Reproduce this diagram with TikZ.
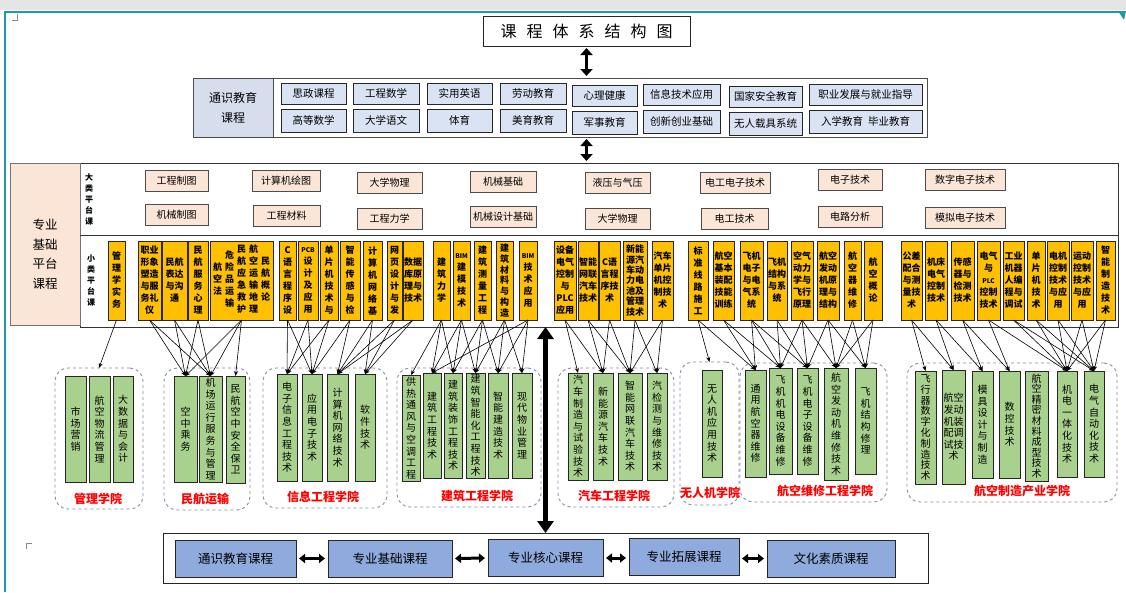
\documentclass[tikz,border=0pt]{standalone}
\usepackage{fontspec}
\setmainfont{Noto Sans CJK SC}
\usetikzlibrary{arrows.meta}
\definecolor{teal1}{HTML}{1E9AA5}
\definecolor{gebl}{HTML}{DAE3F3}
\definecolor{gecell}{HTML}{D6DEEE}
\definecolor{peach}{HTML}{FBE5D6}
\definecolor{gold}{HTML}{FFC000}
\definecolor{grn}{HTML}{A9D18E}
\definecolor{grpc}{HTML}{7F8FA9}
\definecolor{bblue}{HTML}{8FAADC}
\newcommand\vstk[1]{\begin{tabular}[c]{@{}c@{}}#1\end{tabular}}
\tikzset{
 gebox/.style={draw=black!85, fill=gebl, line width=0.6pt, inner sep=0, outer sep=0, minimum height=21, font=\fontsize{10.5}{12}\selectfont},
 pbox/.style={draw=black!70, fill=peach, line width=1pt, inner sep=0, outer sep=0, minimum height=21, font=\fontsize{10}{12}\selectfont},
 sbox/.style={draw=black!85, fill=gold, line width=0.8pt, inner sep=0, outer sep=0, minimum height=79, align=center, font=\fontsize{9}{12}\selectfont\bfseries},
 mbox/.style={draw=black!85, fill=grn, line width=0.8pt, inner sep=0, outer sep=0, align=center, font=\fontsize{10}{11.6}\selectfont},
 grp/.style={draw=grpc, dashed, line width=0.9pt, rounded corners=13pt, inner sep=0, outer sep=0},
 glab/.style={text=red, font=\fontsize{12}{14}\selectfont\bfseries},
 conn/.style={-{Stealth[length=5pt,width=4pt]}, line width=0.6pt, black},
 dbl/.style={{Triangle[width=12pt,length=7pt]}-{Triangle[width=12pt,length=7pt]}, line width=3.5pt},
 bigdbl/.style={{Triangle[width=16pt,length=12pt]}-{Triangle[width=16pt,length=12pt]}, line width=5pt},
 hdbl/.style={{Triangle[width=9pt,length=6pt]}-{Triangle[width=9pt,length=6pt]}, line width=3pt, shorten <=3pt, shorten >=3pt},
 botbox/.style={draw=black!85, fill=bblue, line width=0.8pt, inner sep=0, outer sep=0, minimum height=37, font=\fontsize{12.5}{14}\selectfont},
}
\begin{document}
\begin{tikzpicture}[x=1pt,y=-1pt]
\useasboundingbox (0,0) rectangle (1126,592);
\fill[white] (0,0) rectangle (1126,592);
\fill[black!10] (0,0) rectangle (1126,10);
\draw[teal1, line width=2.2pt] (5,592) -- (5,12) -- (1121,12);
\fill[teal1] (1118,11) -- (1126,11) -- (1124,20) -- cycle;
\draw[black!45, line width=0.5pt] (12,20) -- (17,20) -- (17,14);
\draw[black!45, line width=0.5pt] (26,549) -- (26,543) -- (32,543);

% title
\node[draw=black!85, line width=0.8pt, fill=white, minimum width=207, minimum height=30, inner sep=0, outer sep=0, font=\fontsize{16}{18}\selectfont] (title) at (586.5,31)
 {课\hspace{10pt}程\hspace{10pt}体\hspace{10pt}系\hspace{10pt}结\hspace{10pt}构\hspace{10pt}图};

% general education
\node[draw=black!70, line width=0.7pt, fill=white, anchor=north west, minimum width=734, minimum height=59, inner sep=0, outer sep=0] (gened) at (193,78) {};
\node[draw=black!70, line width=0.7pt, fill=gecell, anchor=north west, minimum width=80, minimum height=59, inner sep=0, outer sep=0, align=center, font=\fontsize{12}{20}\selectfont] (gecellnode) at (193,78) {通识教育\\课程};
\node[gebox, minimum width=65] (e1) at (313.5,93.5) {思政课程};
\node[gebox, minimum width=66] (e2) at (386,93.5) {工程数学};
\node[gebox, minimum width=65] (e3) at (459.5,93.5) {实用英语};
\node[gebox, minimum width=66] (e4) at (533,93.5) {劳动教育};
\node[gebox, minimum width=65] (e5) at (604.5,95.5) {心理健康};
\node[gebox, minimum width=77] (e6) at (681.5,94.5) {信息技术应用};
\node[gebox, minimum width=73] (e7) at (765.5,96.5) {国家安全教育};
\node[gebox, minimum width=113] (e8) at (865.5,94.5) {职业发展与就业指导};
\node[gebox, minimum width=65, minimum height=23] (f1) at (313.5,120.5) {高等数学};
\node[gebox, minimum width=66, minimum height=23] (f2) at (386,120.5) {大学语文};
\node[gebox, minimum width=65, minimum height=23] (f3) at (459.5,120.5) {体育};
\node[gebox, minimum width=66, minimum height=23] (f4) at (533,120.5) {美育教育};
\node[gebox, minimum width=65, minimum height=23] (f5) at (604.5,122.5) {军事教育};
\node[gebox, minimum width=77, minimum height=23] (f6) at (681.5,121.5) {创新创业基础};
\node[gebox, minimum width=73, minimum height=23] (f7) at (765.5,123.5) {无人载具系统};
\node[gebox, minimum width=113, minimum height=23] (f8) at (865.5,121.5) {入学教育\hspace{5pt}毕业教育};

% platform
\node[draw=black!80, line width=0.8pt, fill=white, anchor=north west, minimum width=1038, minimum height=164, inner sep=0, outer sep=0] (plat) at (80,163) {};
\node[draw=black!55, line width=0.7pt, fill=peach, anchor=north west, minimum width=70, minimum height=162, inner sep=0, outer sep=0] (platcell) at (10,163) {};
\node[align=center, font=\fontsize{12.5}{19.5}\selectfont] (platlab) at (45,254) {专业\\基础\\平台\\课程};
\coordinate (dv) at (0,235);
\draw[black!80, line width=0.8pt] (plat.west |- dv) -- (plat.east |- dv);
\node[align=center, font=\fontsize{8}{11}\selectfont\bfseries] (biglab) at (89,199) {大\\类\\平\\台\\课};
\node[align=center, font=\fontsize{8}{11}\selectfont\bfseries] (smllab) at (91,281) {小\\类\\平\\台\\课};

\node[pbox, minimum width=63] (p1) at (176.5,181) {工程制图};
\node[pbox, minimum width=68] (p2) at (286,181) {计算机绘图};
\node[pbox, minimum width=65] (p3) at (389.5,183) {大学物理};
\node[pbox, minimum width=66] (p4) at (503,182) {机械基础};
\node[pbox, minimum width=65] (p5) at (617.5,183) {液压与气压};
\node[pbox, minimum width=70] (p6) at (735,183) {电工电子技术};
\node[pbox, minimum width=64] (p7) at (850,180) {电子技术};
\node[pbox, minimum width=80] (p8) at (965,180) {数字电子技术};
\node[pbox, minimum width=63] (q1) at (176.5,215) {机械制图};
\node[pbox, minimum width=67] (q2) at (286.5,216) {工程材料};
\node[pbox, minimum width=65] (q3) at (389.5,219) {工程力学};
\node[pbox, minimum width=66] (q4) at (503,217) {机械设计基础};
\node[pbox, minimum width=65] (q5) at (617.5,219) {大学物理};
\node[pbox, minimum width=67] (q6) at (734.5,219) {电工技术};
\node[pbox, minimum width=64] (q7) at (850,217) {电路分析};
\node[pbox, minimum width=80] (q8) at (965,218) {模拟电子技术};

% small platform courses
\node[sbox, minimum width=17] (s1) at (116.5,280.5) {管\\理\\学\\实\\务};
\node[sbox, minimum width=23] (s2) at (149.5,280.5) {职业\\形象\\塑造\\与服\\务礼\\仪};
\node[sbox, minimum width=25] (s3) at (174.5,280.5) {民航\\表达\\与沟\\通};
\node[sbox, minimum width=20] (s4) at (198,280.5) {民\\航\\服\\务\\心\\理};
\node[sbox, minimum width=63] (s5) at (241.5,280.5) {\vstk{航\\空\\法}\hspace{3pt}\vstk{危\\险\\品\\运\\输}\hspace{3pt}\vstk{民\\航\\应\\急\\救\\护}\hspace{3pt}\vstk{航\\空\\运\\输\\地\\理}\hspace{3pt}\vstk{民\\航\\概\\论}};
\node[sbox, minimum width=17] (s6) at (287.5,280.5) {C\\语\\言\\程\\序\\设};
\node[sbox, minimum width=20] (s7) at (308,280.5) {{\fontsize{6.5}{8}\selectfont PCB}\\设\\计\\及\\应\\用};
\node[sbox, minimum width=18] (s8) at (329,280.5) {单\\片\\机\\技\\术\\与};
\node[sbox, minimum width=20] (s9) at (350,280.5) {智\\能\\传\\感\\与\\检};
\node[sbox, minimum width=19] (s10) at (372.5,280.5) {计\\算\\机\\网\\络\\基};
\node[sbox, minimum width=15] (s11) at (394.5,280.5) {网\\页\\设\\计\\与\\发};
\node[sbox, minimum width=20] (s12) at (413,280.5) {数据\\库原\\理与\\技术};
\node[sbox, minimum width=17] (s13) at (441.5,280.5) {建\\筑\\力\\学};
\node[sbox, minimum width=17] (s14) at (461.5,280.5) {{\fontsize{6.5}{8}\selectfont BIM}\\建\\模\\技\\术};
\node[sbox, minimum width=17] (s15) at (482.5,280.5) {建\\筑\\测\\量\\工\\程};
\node[sbox, minimum width=17, font=\fontsize{9}{10.8}\selectfont\bfseries] (s16) at (504.5,280.5) {建\\筑\\材\\料\\与\\构\\造};
\node[sbox, minimum width=18] (s17) at (528,280.5) {{\fontsize{6.5}{8}\selectfont BIM}\\技\\术\\应\\用};
\node[sbox, minimum width=22] (s18) at (565,280.5) {设备\\电气\\控制\\与\\PLC\\应用};
\node[sbox, minimum width=20] (s19) at (588,280.5) {智能\\网联\\汽车\\技术};
\node[sbox, minimum width=21] (s20) at (609.5,280.5) {C语\\言程\\序技\\术};
\node[sbox, minimum width=24, font=\fontsize{9}{10.4}\selectfont\bfseries] (s21) at (635,280.5) {新能\\源汽\\车动\\力电\\池及\\管理\\技术};
\node[sbox, minimum width=21] (s22) at (662.5,280.5) {汽车\\单片\\机控\\制技\\术};
\node[sbox, minimum width=20] (s23) at (698,280.5) {标\\准\\线\\路\\施\\工};
\node[sbox, minimum width=21] (s24) at (723.5,280.5) {航空\\基本\\装配\\技能\\训练};
\node[sbox, minimum width=23] (s25) at (751.5,280.5) {飞机\\电子\\与电\\气系\\统};
\node[sbox, minimum width=20] (s26) at (777,280.5) {飞机\\结构\\与系\\统};
\node[sbox, minimum width=22] (s27) at (802,280.5) {空气\\动力\\学与\\飞行\\原理};
\node[sbox, minimum width=22] (s28) at (828,280.5) {航空\\发动\\机原\\理与\\结构};
\node[sbox, minimum width=17] (s29) at (852.5,280.5) {航\\空\\器\\维\\修};
\node[sbox, minimum width=18] (s30) at (873,280.5) {航\\空\\概\\论};
\node[sbox, minimum width=21] (s31) at (911.5,280.5) {公差\\配合\\与测\\量技\\术};
\node[sbox, minimum width=22] (s32) at (936,280.5) {机床\\电气\\控制\\技术};
\node[sbox, minimum width=23] (s33) at (962.5,280.5) {传感\\器与\\检测\\技术};
\node[sbox, minimum width=23] (s34) at (988.5,280.5) {电气\\与\\{\fontsize{6.5}{8}\selectfont PLC}\\控制\\技术};
\node[sbox, minimum width=21] (s35) at (1013.5,280.5) {工业\\机器\\人编\\程与\\调试};
\node[sbox, minimum width=18] (s36) at (1036,280.5) {单\\片\\机\\技\\术};
\node[sbox, minimum width=22] (s37) at (1058,280.5) {电机\\控制\\技术\\与应\\用};
\node[sbox, minimum width=22] (s38) at (1082,280.5) {运动\\控制\\技术\\与应\\用};
\node[sbox, minimum width=19] (s39) at (1105.5,280.5) {智\\能\\制\\造\\技\\术};

% groups
\node[grp, minimum width=88, minimum height=141] (g1) at (99,438.5) {};
\node[grp, minimum width=86, minimum height=142] (g2) at (207,439) {};
\node[grp, minimum width=124, minimum height=140] (g3) at (325,438) {};
\node[grp, minimum width=144, minimum height=139] (g4) at (469,437.5) {};
\node[grp, minimum width=116, minimum height=139] (g5) at (616,437.5) {};
\node[grp, minimum width=59, minimum height=143] (g6) at (709.5,433.5) {};
\node[grp, minimum width=147, minimum height=139] (g7) at (813.5,432.5) {};
\node[grp, minimum width=210, minimum height=139] (g8) at (1012,432.5) {};

% majors
\node[mbox, minimum width=21, minimum height=106] (m1) at (75.5,429) {市\\场\\营\\销};
\node[mbox, minimum width=21, minimum height=106] (m2) at (99.5,429) {航\\空\\物\\流\\管\\理};
\node[mbox, minimum width=20, minimum height=106] (m3) at (123,429) {大\\数\\据\\与\\会\\计};
\node[mbox, minimum width=23, minimum height=106] (m4) at (185.5,429) {空\\中\\乘\\务};
\node[mbox, minimum width=23, minimum height=106] (m5) at (210.5,429) {机\\场\\运\\行\\服\\务\\与\\管\\理};
\node[mbox, minimum width=19, minimum height=107] (m6) at (235.5,429.5) {民\\航\\空\\中\\安\\全\\保\\卫};
\node[mbox, minimum width=20, minimum height=107] (m7) at (287,427.5) {电\\子\\信\\息\\工\\程\\技\\术};
\node[mbox, minimum width=20, minimum height=107] (m8) at (312,427.5) {应\\用\\电\\子\\技\\术};
\node[mbox, minimum width=21, minimum height=107] (m9) at (337.5,427.5) {计\\算\\机\\网\\络\\技\\术};
\node[mbox, minimum width=20, minimum height=107] (m10) at (365,427.5) {软\\件\\技\\术};
\node[mbox, minimum width=18, minimum height=106] (m11) at (411,428) {供\\热\\通\\风\\与\\空\\调\\工\\程};
\node[mbox, minimum width=18, minimum height=105] (m12) at (432,425.5) {建\\筑\\工\\程\\技\\术};
\node[mbox, minimum width=18, minimum height=105] (m13) at (453,425.5) {建\\筑\\装\\饰\\工\\程\\技\\术};
\node[mbox, minimum width=19, minimum height=105] (m14) at (475.5,425.5) {建\\筑\\智\\能\\化\\工\\程\\技\\术};
\node[mbox, minimum width=20, minimum height=105] (m15) at (498,425.5) {智\\能\\建\\造\\技\\术};
\node[mbox, minimum width=20, minimum height=105] (m16) at (522,425.5) {现\\代\\物\\业\\管\\理};
\node[mbox, minimum width=20, minimum height=107] (m17) at (578,426.5) {汽\\车\\制\\造\\与\\试\\验\\技\\术};
\node[mbox, minimum width=20, minimum height=107] (m18) at (603,426.5) {新\\能\\源\\汽\\车\\技\\术};
\node[mbox, minimum width=24, minimum height=107] (m19) at (630,426.5) {智\\能\\网\\联\\汽\\车\\技\\术};
\node[mbox, minimum width=20, minimum height=107] (m20) at (657,426.5) {汽\\检\\测\\与\\维\\修\\技\\术};
\node[mbox, minimum width=20, minimum height=107] (m21) at (712,423.5) {无\\人\\机\\应\\用\\技\\术};
\node[mbox, minimum width=21, minimum height=107] (m22) at (755.5,423.5) {通\\用\\航\\空\\器\\维\\修};
\node[mbox, minimum width=23, minimum height=106] (m23) at (780.5,421) {飞\\机\\机\\电\\设\\备\\维\\修};
\node[mbox, minimum width=21, minimum height=106] (m24) at (807.5,421) {飞\\机\\电\\子\\设\\备\\维\\修};
\node[mbox, minimum width=24, minimum height=112] (m25) at (836,424) {航\\空\\发\\动\\机\\维\\修\\技\\术};
\node[mbox, minimum width=21, minimum height=106] (m26) at (865.5,421) {飞\\机\\结\\构\\修\\理};
\node[mbox, minimum width=21, minimum height=113, font=\fontsize{10}{10.8}\selectfont] (m27) at (925.5,427.5) {飞\\行\\器\\数\\字\\化\\制\\造\\技\\术};
\node[mbox, minimum width=23, minimum height=114] (m28) at (953.5,427) {航空\\发动\\机装\\配调\\试技\\术};
\node[mbox, minimum width=21, minimum height=107] (m29) at (982.5,424.5) {模\\具\\设\\计\\与\\制\\造};
\node[mbox, minimum width=21, minimum height=107] (m30) at (1009.5,424.5) {数\\控\\技\\术};
\node[mbox, minimum width=23, minimum height=110, font=\fontsize{10}{10.6}\selectfont] (m31) at (1036.5,426) {航\\空\\精\\密\\材\\料\\成\\型\\技\\术};
\node[mbox, minimum width=20, minimum height=106] (m32) at (1067,424) {机\\电\\一\\体\\化\\技\\术};
\node[mbox, minimum width=20, minimum height=106] (m33) at (1094,424) {电\\气\\自\\动\\化\\技\\术};

% group labels
\node[glab] (l1) at (98,499) {管理学院};
\node[glab] (l2) at (205,499) {民航运输};
\node[glab] (l3) at (323,497) {信息工程学院};
\node[glab] (l4) at (477,496) {建筑工程学院};
\node[glab] (l5) at (614,496) {汽车工程学院};
\node[glab] (l6) at (710,493) {无人机学院};
\node[glab] (l7) at (825,491) {航空维修工程学院};
\node[glab] (l8) at (1022,491) {航空制造产业学院};

% connectors
\draw[conn] (s1.south) -- (g1.north);
\draw[conn] (s23.south) -- (g6.north);
\foreach \a/\b in {s2/m4,s2/m5,s3/m4,s3/m5,s4/m4,s4/m5,s5/m4,s5/m5,s5/m6,
 s6/m7,s6/m8,s7/m7,s7/m8,s8/m7,s8/m8,s9/m8,s9/m9,s10/m9,s10/m10,s11/m9,s11/m10,s12/m10,s12/m9,
 s13/m11,s13/m12,s13/m13,s14/m12,s14/m13,s14/m14,s15/m13,s15/m14,s15/m15,s16/m14,s16/m15,s16/m16,s17/m15,s17/m16,s17/m12,
 s18/m17,s18/m18,s19/m18,s19/m19,s20/m18,s20/m19,s21/m19,s21/m20,s22/m19,s22/m20,
 s23/m22,s24/m22,s24/m23,
 s25/m22,s25/m23,s25/m24,s26/m23,s26/m24,s27/m23,s27/m24,s27/m25,s28/m24,s28/m25,s28/m26,s29/m25,s29/m26,s30/m26,s30/m25,
 s31/m27,s31/m28,s32/m28,s32/m29,s33/m29,s33/m30,s34/m30,s34/m32,s35/m32,s35/m33,s36/m32,s36/m33,s37/m32,s37/m33,s38/m32,s38/m33,s39/m33,s39/m32}
 \draw[conn] (\a.south) -- (\b.north);

% bottom bar
\node[draw=black!85, line width=0.8pt, fill=white, anchor=north west, minimum width=765, minimum height=50, inner sep=0, outer sep=0] (bar) at (163,533) {};
\node[botbox, minimum width=121] (b1) at (235.5,558.5) {通识教育课程};
\node[botbox, minimum width=124] (b2) at (390,558.5) {专业基础课程};
\node[botbox, minimum width=115] (b3) at (545.5,558) {专业核心课程};
\node[botbox, minimum width=110] (b4) at (684,557) {专业拓展课程};
\node[botbox, minimum width=128] (b5) at (831,558.5) {文化素质课程};
\draw[hdbl] (b1.east) -- (b2.west);
\draw[hdbl] (b2.east) -- (b3.west);
\draw[hdbl] (b3.east) -- (b4.west |- b3.east);
\draw[hdbl] (b4.east |- b5.west) -- (b5.west);

% big arrows
\draw[dbl] ([yshift=-2pt]title.south) -- ([yshift=2pt]title.south |- gened.north);
\draw[dbl] ([yshift=-2pt]gened.south -| title.south) -- ([yshift=2pt]title.south |- plat.north);
\draw[bigdbl] (b3.north |- plat.south) -- (b3.north |- bar.north);
\end{tikzpicture}
\end{document}
